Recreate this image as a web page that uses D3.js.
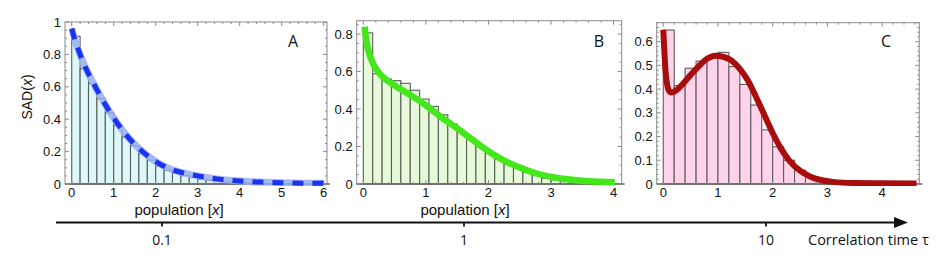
<!DOCTYPE html>
<html><head><meta charset="utf-8">
<script src="https://cdn.jsdelivr.net/npm/d3@7"></script>
<style>body{margin:0;background:#fff}svg{display:block}</style>
</head><body>
<svg id="chart" width="940" height="273"></svg>
<script>
// ---------- data ----------
const binWidthA = 0.2;
const histA = [0.912,0.712,0.62,0.528,0.44,0.36,0.29,0.236,0.189,0.148,0.111,0.086,0.068,0.052,0.041,0.031,0.023,0.017,0.012,0.009,0.006,0.004,0.003,0.002,0.001];
const curveAx = [0,0.1,0.2,0.3,0.5,0.7,0.9,1.1,1.3,1.5,1.7,1.9,2.1,2.4,2.7,3,3.5,4,4.5,5,5.5,6];
const curveAy = [0.96,0.87,0.8,0.735,0.63,0.535,0.448,0.37,0.302,0.245,0.197,0.157,0.123,0.088,0.066,0.05,0.03,0.018,0.012,0.008,0.005,0.004];

const binWidthB = 0.15;
const histB = [0.806,0.588,0.56,0.551,0.537,0.5,0.453,0.414,0.369,0.32,0.276,0.239,0.2,0.164,0.134,0.108,0.084,0.063,0.045,0.031,0.022,0.015,0.01,0.007,0.005,0.003];
const curveBx = [0.02,0.05,0.1,0.16,0.27,0.48,0.75,1.0,1.25,1.55,1.75,2.0,2.25,2.5,2.77,3.0,3.3,3.6,4.02];
const curveBy = [0.84,0.76,0.69,0.64,0.585,0.53,0.475,0.42,0.355,0.285,0.235,0.175,0.125,0.088,0.056,0.038,0.024,0.015,0.01];

const binWidthC = 0.2;
const histC = [0.649,0.415,0.488,0.518,0.537,0.555,0.495,0.42,0.333,0.228,0.157,0.1,0.058,0.031,0.016,0.008,0.004,0.002];
const curveCx = [0,0.02,0.04,0.07,0.1,0.15,0.25,0.37,0.5,0.65,0.8,0.95,1.1,1.25,1.4,1.55,1.7,1.85,2.0,2.15,2.3,2.5,2.7,2.9,3.1,3.5,4,4.63];
const curveCy = [0.65,0.56,0.48,0.42,0.395,0.386,0.397,0.425,0.46,0.497,0.528,0.541,0.536,0.52,0.485,0.435,0.365,0.29,0.215,0.15,0.1,0.056,0.03,0.016,0.009,0.004,0.003,0.002];

const xTicksA = [0,1,2,3,4,5,6];
const yTicksA = [0,0.2,0.4,0.6,0.8,1];
const xTicksB = [0,1,2,3,4];
const yTicksB = [0,0.2,0.4,0.6,0.8];
const xTicksC = [0,1,2,3,4];
const yTicksC = [0,0.1,0.2,0.3,0.4,0.5,0.6];

const tauTicks = [0.1,1,10];
const tauLabels = ["0.1","1","10"];

// ---------- drawing ----------
const svg = d3.select("#chart");
const fmt = v => String(+v.toFixed(2));
const tickFont = "'Liberation Sans', Arial, sans-serif";

function panel(cfg){
  const x = d3.scaleLinear().domain(cfg.xDom).range([cfg.left, cfg.right]);
  const y = d3.scaleLinear().domain(cfg.yDom).range([cfg.bottom, cfg.top]);
  const g = svg.append("g");
  const clipId = "clip" + cfg.name;
  svg.append("clipPath").attr("id", clipId).append("rect")
    .attr("x", cfg.left).attr("y", cfg.top - 6)
    .attr("width", cfg.right - cfg.left + 3).attr("height", cfg.bottom - cfg.top + 8);

  // bars
  g.append("g").selectAll("rect").data(cfg.hist).join("rect")
    .attr("x", (d,i) => x(i*cfg.bw))
    .attr("width", (d,i) => x((i+1)*cfg.bw) - x(i*cfg.bw))
    .attr("y", d => y(d))
    .attr("height", d => y(0) - y(d))
    .attr("fill", cfg.fill).attr("stroke", "#5c5c5c").attr("stroke-width", 1.1);

  // frame
  g.append("rect").attr("x", cfg.left).attr("y", cfg.top)
    .attr("width", cfg.right - cfg.left).attr("height", cfg.bottom - cfg.top)
    .attr("fill", "none").attr("stroke", "#8a8a8a").attr("stroke-width", 1);
  g.append("line").attr("x1", cfg.left).attr("x2", cfg.right + 3)
    .attr("y1", y(0)).attr("y2", y(0)).attr("stroke", "#666").attr("stroke-width", 1.6);

  // ticks
  const tg = g.append("g").attr("stroke", "#8a8a8a").attr("stroke-width", 1);
  const xMin = d3.range(Math.ceil(cfg.xDom[0]/cfg.xMinor), Math.floor(cfg.xDom[1]/cfg.xMinor)+1).map(k => k*cfg.xMinor);
  const yMin = d3.range(0, Math.floor(cfg.yDom[1]/cfg.yMinor + 1e-6)+1).map(k => k*cfg.yMinor);
  const isMajor = (v, arr) => arr.some(t => Math.abs(t - v) < 1e-6);
  xMin.forEach(v => {
    const L = isMajor(v, cfg.xTicks) ? 4 : 2;
    tg.append("line").attr("x1", x(v)).attr("x2", x(v)).attr("y1", cfg.bottom).attr("y2", cfg.bottom - L);
    tg.append("line").attr("x1", x(v)).attr("x2", x(v)).attr("y1", cfg.top).attr("y2", cfg.top + L);
  });
  yMin.forEach(v => {
    const L = isMajor(v, cfg.yTicks) ? 4 : 2;
    tg.append("line").attr("y1", y(v)).attr("y2", y(v)).attr("x1", cfg.left).attr("x2", cfg.left + L);
    tg.append("line").attr("y1", y(v)).attr("y2", y(v)).attr("x1", cfg.right).attr("x2", cfg.right - L);
  });

  // tick labels
  g.append("g").selectAll("text").data(cfg.xTicks).join("text")
    .attr("x", d => x(d)).attr("y", cfg.bottom + 13)
    .attr("text-anchor", "middle").attr("font-family", tickFont).attr("font-size", 13)
    .attr("fill", "#111").text(fmt);
  g.append("g").selectAll("text").data(cfg.yTicks).join("text")
    .attr("x", cfg.left - 4).attr("y", d => y(d) + 4.5)
    .attr("text-anchor", "end").attr("font-family", tickFont).attr("font-size", 13)
    .attr("fill", "#111").text(fmt);

  // curves
  const line = d3.line().x(d => x(d[0])).y(d => y(d[1])).curve(d3.curveMonotoneX);
  const pts = cfg.cx.map((v,i) => [v, cfg.cy[i]]);
  const cg = g.append("g").attr("clip-path", `url(#${clipId})`);
  cfg.styles.forEach(s => {
    cg.append("path").datum(pts).attr("d", line).attr("fill", "none")
      .attr("stroke", s.color).attr("stroke-width", s.width)
      .attr("stroke-opacity", s.opacity || 1)
      .attr("stroke-dasharray", s.dash || null)
      .attr("stroke-linejoin", "round");
  });

  // panel letter
  g.append("text").attr("x", cfg.letterX).attr("y", 47).attr("text-anchor", "middle")
    .attr("font-family", "'Open Sans', sans-serif").attr("font-size", 16).attr("fill", "#111")
    .text(cfg.name);

  // x label
  if (cfg.xlabel) {
    const t = g.append("text").attr("x", cfg.xlabelX).attr("y", 215).attr("text-anchor", "middle")
      .attr("font-family", tickFont).attr("font-size", 15).attr("fill", "#111");
    t.append("tspan").text("population [");
    t.append("tspan").attr("font-style", "italic").text("x");
    t.append("tspan").text("]");
  }
}

panel({name:"A", left:65, right:327, top:22, bottom:184, xDom:[-0.16,6.08], yDom:[0,1],
  hist:histA, bw:binWidthA, fill:"#dcf8f8", cx:curveAx, cy:curveAy,
  xTicks:xTicksA, yTicks:yTicksA, xMinor:0.2, yMinor:0.05, letterX:293, xlabel:true, xlabelX:179,
  styles:[{color:"#97aef0", width:7, opacity:0.85},{color:"#1a33f2", width:5, dash:"11,9"}]});

panel({name:"B", left:356.7, right:621.7, top:20.7, bottom:184, xDom:[-0.106,4.13], yDom:[0,0.871],
  hist:histB, bw:binWidthB, fill:"#e6f9d8", cx:curveBx, cy:curveBy,
  xTicks:xTicksB, yTicks:yTicksB, xMinor:0.2, yMinor:0.05, letterX:599, xlabel:true, xlabelX:465,
  styles:[{color:"#44e61c", width:6.5}]});

panel({name:"C", left:656.7, right:919.3, top:22.7, bottom:184, xDom:[-0.12,4.68], yDom:[0,0.68],
  hist:histC, bw:binWidthC, fill:"#ffd4ea", cx:curveCx, cy:curveCy,
  xTicks:xTicksC, yTicks:yTicksC, xMinor:0.2, yMinor:0.02, letterX:886, xlabel:false,
  styles:[{color:"#a80c0c", width:6}]});

// y-axis label
const yl = svg.append("text").attr("transform", "translate(32,97) rotate(-90)")
  .attr("text-anchor", "middle").attr("font-family", tickFont).attr("font-size", 14).attr("fill", "#111");
yl.append("tspan").text("SAD(");
yl.append("tspan").attr("font-style", "italic").text("x");
yl.append("tspan").text(")");

// correlation-time axis
const tau = d3.scaleLog().domain([0.1, 10]).range([162, 766]);
const ax = svg.append("g");
ax.append("line").attr("x1", 56).attr("x2", 898).attr("y1", 222.5).attr("y2", 222.5)
  .attr("stroke", "#111").attr("stroke-width", 1.8);
ax.append("path").attr("d", "M894,217 L908,222.5 L894,228 Z").attr("fill", "#111");
ax.selectAll("line.t").data(tauTicks).join("line").attr("class", "t")
  .attr("x1", d => tau(d)).attr("x2", d => tau(d)).attr("y1", 222.5).attr("y2", 226.5)
  .attr("stroke", "#111").attr("stroke-width", 1.8);
ax.selectAll("text.t").data(tauTicks).join("text").attr("class", "t")
  .attr("x", d => tau(d)).attr("y", 245).attr("text-anchor", "middle")
  .attr("font-family", "'Open Sans', sans-serif").attr("font-size", 14).attr("fill", "#111")
  .text((d,i) => tauLabels[i]);
ax.append("text").attr("x", 808).attr("y", 245)
  .attr("font-family", "'Open Sans', sans-serif").attr("font-size", 14.5).attr("fill", "#111")
  .text("Correlation time τ");
</script>
</body></html>
